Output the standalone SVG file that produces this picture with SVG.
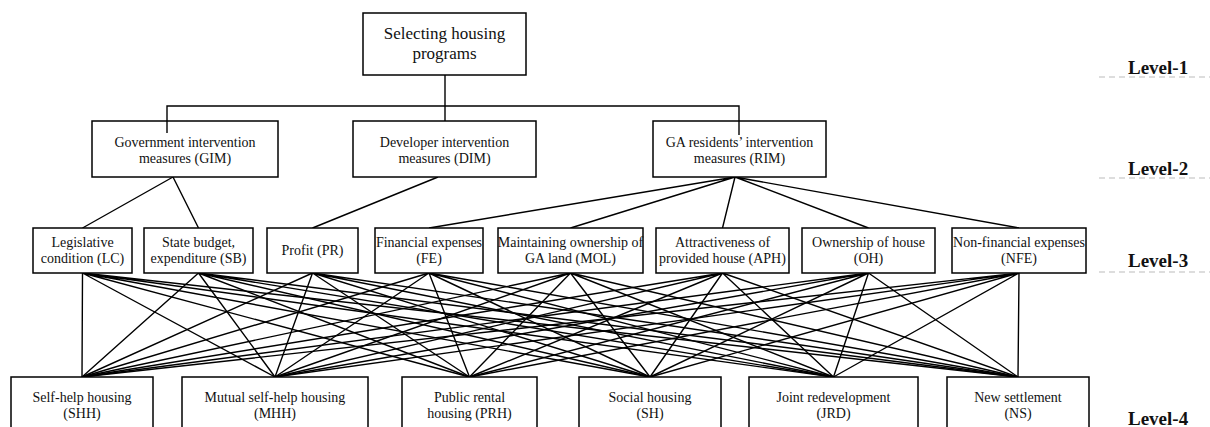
<svg xmlns="http://www.w3.org/2000/svg" width="1210" height="427" viewBox="0 0 1210 427">
<style>
rect.box{fill:#fff;stroke:#000;stroke-width:1.5}
text{font-family:"Liberation Serif","Times New Roman",serif;fill:#111;text-anchor:middle}
.t1{font-size:17px}
.t2,.t3,.t4{font-size:14px}
.lvl{font-size:19px;font-weight:bold;text-anchor:start}
.dash{stroke:#bbb;stroke-width:1;stroke-dasharray:6 4;fill:none}
#connectors path{stroke:#000;stroke-width:1.4;fill:none}
</style>
<rect width="1210" height="427" fill="#fff"/>
<g id="connectors">
<path d="M445 75V121M167 133V106H739V135"/>
<path d="M173 177L82.5 228M173 177L198.5 228M438 177L312.5 228"/>
<path d="M735 177L429 228M735 177L570.5 228M735 177L722.5 228M735 177L868.5 228M735 177L1019 228"/>
<path d="M82.5 273L82 377M82.5 273L275 377M82.5 273L469.5 377M82.5 273L650 377M82.5 273L833.5 377M82.5 273L1018 377"/>
<path d="M198.5 273L82 377M198.5 273L275 377M198.5 273L469.5 377M198.5 273L650 377M198.5 273L833.5 377M198.5 273L1018 377"/>
<path d="M312.5 273L82 377M312.5 273L275 377M312.5 273L469.5 377M312.5 273L650 377M312.5 273L833.5 377M312.5 273L1018 377"/>
<path d="M429 273L82 377M429 273L275 377M429 273L469.5 377M429 273L650 377M429 273L833.5 377M429 273L1018 377"/>
<path d="M570.5 273L82 377M570.5 273L275 377M570.5 273L469.5 377M570.5 273L650 377M570.5 273L833.5 377M570.5 273L1018 377"/>
<path d="M722.5 273L82 377M722.5 273L275 377M722.5 273L469.5 377M722.5 273L650 377M722.5 273L833.5 377M722.5 273L1018 377"/>
<path d="M868.5 273L82 377M868.5 273L275 377M868.5 273L469.5 377M868.5 273L650 377M868.5 273L833.5 377M868.5 273L1018 377"/>
<path d="M1019 273L82 377M1019 273L275 377M1019 273L469.5 377M1019 273L650 377M1019 273L833.5 377M1019 273L1018 377"/>
</g>
<g id="top"><rect class="box" x="363" y="13" width="163" height="62"/><text class="t1" x="444.5" y="39">Selecting housing</text><text class="t1" x="444.5" y="59">programs</text></g>
<g id="GIM"><rect class="box" x="92" y="121" width="186" height="56"/><path d="M167 121V133" stroke="#000" stroke-width="1.4"/><text class="t2" x="185" y="147">Government intervention</text><text class="t2" x="185" y="163">measures (GIM)</text></g>
<g id="DIM"><rect class="box" x="353" y="121" width="183" height="56"/><text class="t2" x="444.5" y="147">Developer intervention</text><text class="t2" x="444.5" y="163">measures (DIM)</text></g>
<g id="RIM"><rect class="box" x="653" y="121" width="173" height="56"/><path d="M739 121V135" stroke="#000" stroke-width="1.4"/><text class="t2" x="739.5" y="147">GA residents’ intervention</text><text class="t2" x="739.5" y="163">measures (RIM)</text></g>
<g id="LC"><rect class="box" x="33" y="228" width="99" height="45"/><text class="t3" x="82.5" y="247">Legislative</text><text class="t3" x="82.5" y="263">condition (LC)</text></g>
<g id="SB"><rect class="box" x="144" y="228" width="109" height="45"/><text class="t3" x="198.5" y="247">State budget,</text><text class="t3" x="198.5" y="263">expenditure (SB)</text></g>
<g id="PR"><rect class="box" x="267" y="228" width="91" height="45"/><text class="t3" x="312.5" y="255">Profit (PR)</text></g>
<g id="FE"><rect class="box" x="375" y="228" width="108" height="45"/><text class="t3" x="429" y="247">Financial expenses</text><text class="t3" x="429" y="263">(FE)</text></g>
<g id="MOL"><rect class="box" x="498" y="228" width="145" height="45"/><text class="t3" x="570.5" y="247">Maintaining ownership of</text><text class="t3" x="570.5" y="263">GA land (MOL)</text></g>
<g id="APH"><rect class="box" x="656" y="228" width="133" height="45"/><text class="t3" x="722.5" y="247">Attractiveness of</text><text class="t3" x="722.5" y="263">provided house (APH)</text></g>
<g id="OH"><rect class="box" x="802" y="228" width="133" height="45"/><text class="t3" x="868.5" y="247">Ownership of house</text><text class="t3" x="868.5" y="263">(OH)</text></g>
<g id="NFE"><rect class="box" x="952" y="228" width="134" height="45"/><text class="t3" x="1019" y="247">Non-financial expenses</text><text class="t3" x="1019" y="263">(NFE)</text></g>
<g id="SHH"><rect class="box" x="11" y="377" width="142" height="60"/><text class="t4" x="82" y="402">Self-help housing</text><text class="t4" x="82" y="418">(SHH)</text></g>
<g id="MHH"><rect class="box" x="182" y="377" width="186" height="60"/><text class="t4" x="275" y="402">Mutual self-help housing</text><text class="t4" x="275" y="418">(MHH)</text></g>
<g id="PRH"><rect class="box" x="402" y="377" width="135" height="60"/><text class="t4" x="469.5" y="402">Public rental</text><text class="t4" x="469.5" y="418">housing (PRH)</text></g>
<g id="SH"><rect class="box" x="579" y="377" width="142" height="60"/><text class="t4" x="650" y="402">Social housing</text><text class="t4" x="650" y="418">(SH)</text></g>
<g id="JRD"><rect class="box" x="749" y="377" width="169" height="60"/><text class="t4" x="833.5" y="402">Joint redevelopment</text><text class="t4" x="833.5" y="418">(JRD)</text></g>
<g id="NS"><rect class="box" x="947" y="377" width="142" height="60"/><text class="t4" x="1018" y="402">New settlement</text><text class="t4" x="1018" y="418">(NS)</text></g>
<g id="levels">
<text class="lvl" x="1128" y="74">Level-1</text><path class="dash" d="M1099 77H1210"/>
<text class="lvl" x="1128" y="175">Level-2</text><path class="dash" d="M1099 178H1210"/>
<text class="lvl" x="1128" y="267">Level-3</text><path class="dash" d="M1099 272H1210"/>
<text class="lvl" x="1128" y="425">Level-4</text>
</g>
</svg>
